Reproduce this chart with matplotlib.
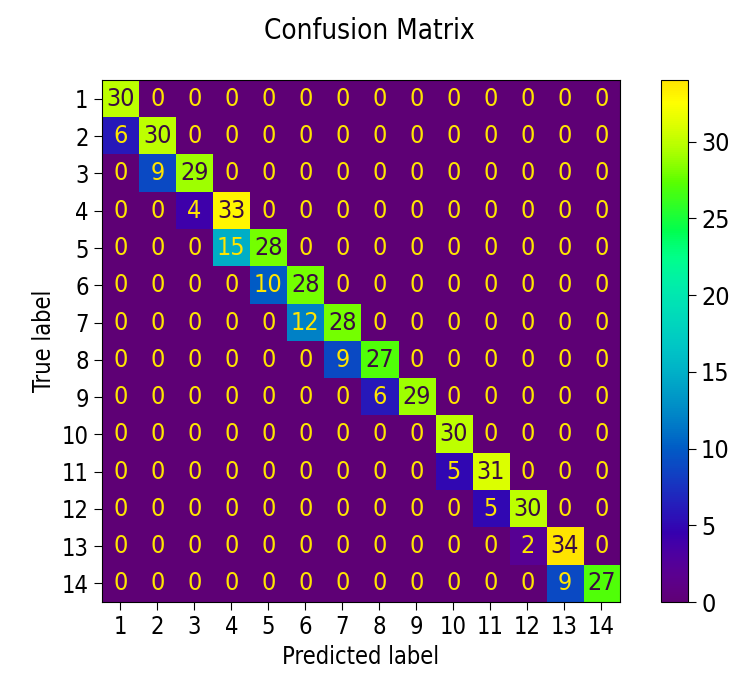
import colorsys
import numpy as np
import matplotlib.pyplot as plt
from matplotlib.colors import ListedColormap

labels = [str(i) for i in range(1, 15)]
diag = [30, 30, 29, 33, 28, 28, 28, 27, 29, 30, 31, 30, 34, 27]
below = [6, 9, 4, 15, 10, 12, 9, 6, 0, 5, 5, 2, 9]  # cell (i+1, i)

n = len(labels)
cm = np.zeros((n, n), dtype=int)
for i in range(n):
    cm[i, i] = diag[i]
for i, v in enumerate(below):
    cm[i + 1, i] = v

# viridis, but more saturated / brighter like the scanned reference
base = plt.get_cmap("viridis")(np.linspace(0, 1, 256))
rows = []
for r, g, b, a in base:
    h, s, v = colorsys.rgb_to_hsv(r, g, b)
    s = min(1.0, s * 1.6)
    v = min(1.0, v * 1.4)
    rows.append(colorsys.hsv_to_rgb(h, s, v))
cmap = ListedColormap(rows)

plt.rcParams["font.family"] = "DejaVu Sans"
plt.rcParams["font.stretch"] = "condensed"

fig = plt.figure(figsize=(7.38, 6.75), dpi=100)
ax = fig.add_axes([0.138, 0.108, 0.702, 0.773])
cax = fig.add_axes([0.895, 0.108, 0.037, 0.773])

im = ax.imshow(cm, cmap=cmap, vmin=0, vmax=cm.max(), aspect="auto")
cb = fig.colorbar(im, cax=cax)
cb.set_ticks([0, 5, 10, 15, 20, 25, 30])
cb.ax.tick_params(labelsize=18, length=6)

thresh = (cm.max() + cm.min()) / 2
for i in range(n):
    for j in range(n):
        col = cmap(0.0) if cm[i, j] >= thresh else cmap(1.0)
        if cm[i, j] >= thresh:
            col = "#3a0a40"
        ax.text(j, i, str(cm[i, j]), ha="center", va="center",
                color=col, fontsize=18)

ax.set_xticks(range(n))
ax.set_yticks(range(n))
ax.set_xticklabels(labels)
ax.set_yticklabels(labels)
ax.tick_params(labelsize=17, length=6)
ax.set_xlabel("Predicted label", fontsize=17)
ax.set_ylabel("True label", fontsize=17)
fig.suptitle("Confusion Matrix", fontsize=20, y=0.975)

plt.savefig("out.png", dpi=100)
